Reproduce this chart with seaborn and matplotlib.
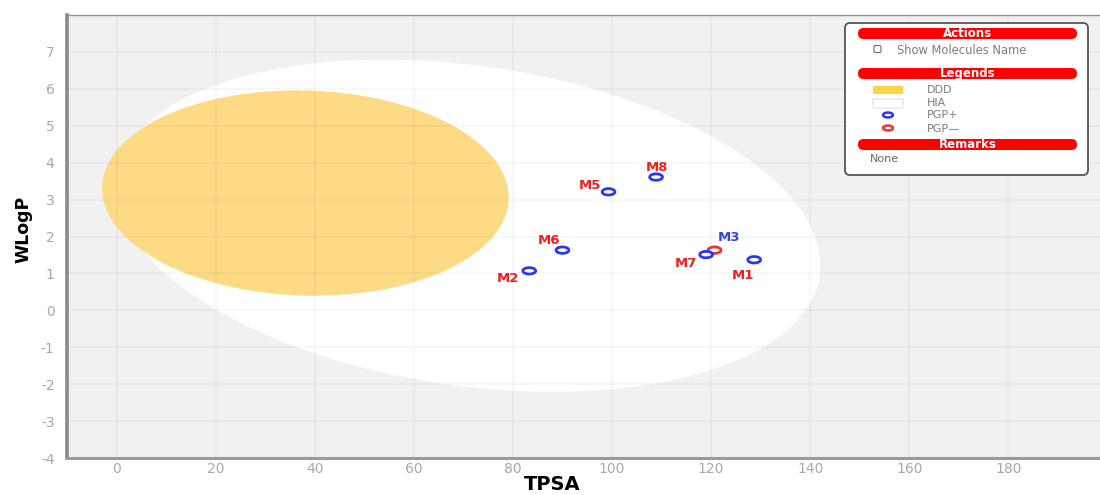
import numpy as np
import pandas as pd
import seaborn as sns
import matplotlib.pyplot as plt
from matplotlib.patches import Ellipse, FancyBboxPatch
from matplotlib.path import Path

# --- molecules: TPSA vs WLogP and P-gp substrate class ---
molecules = ["M1", "M2", "M3", "M5", "M6", "M7", "M8"]
tpsa = [128.7, 83.3, 120.7, 99.3, 90.0, 119.0, 108.9]
wlogp = [1.37, 1.07, 1.63, 3.21, 1.63, 1.51, 3.61]
pgp = ["PGP+", "PGP+", "PGP-", "PGP+", "PGP+", "PGP+", "PGP+"]

# --- BOILED-Egg regions (data units) ---
hia_center = (71.05, 2.292)
hia_size = (142.08, 8.74)
hia_angle = -0.87
bbb_center = (38.12, 3.177)
bbb_size = (82.06, 5.557)
bbb_angle = -0.17

x_ticks = list(range(0, 200, 20))
y_ticks = list(range(-4, 8))

# --- styling ---
BLUE = "#2a36f6"
RED = "#f2302c"
LABEL_RED = "#f01e1e"
LABEL_BLUE = "#3444dc"
YOLK = "#fddb84"
TICK_GREY = "#a8a8a8"

point_colors = {"PGP+": BLUE, "PGP-": RED}
label_colors = {"PGP+": LABEL_RED, "PGP-": LABEL_BLUE}
# label placement around each point, in pixels
label_offsets = {"M1": (-11, -16), "M2": (-21, -8), "M3": (14, 13), "M5": (-19, 6),
                 "M6": (-13, 10), "M7": (-20, -9), "M8": (1, 10)}

# flattened ring marker
t = np.linspace(0, 2 * np.pi, 64)
ring = Path(np.column_stack([np.cos(t), 0.5 * np.sin(t)]), closed=True)

df = pd.DataFrame({"Molecule": molecules, "TPSA": tpsa, "WLogP": wlogp, "PGP": pgp})

sns.set_style("white")
plt.rcParams["font.family"] = ["DejaVu Sans"]
plt.rcParams["axes.unicode_minus"] = False

fig = plt.figure(figsize=(11, 4.95), dpi=100)
ax = fig.add_axes([67 / 1100, 37 / 495, 1033 / 1100, 443 / 495])
ax.set_facecolor("#f1f1f1")

ax.add_patch(Ellipse(hia_center, hia_size[0], hia_size[1], angle=hia_angle,
                     facecolor="white", edgecolor="none", zorder=0.6))
ax.add_patch(Ellipse(bbb_center, bbb_size[0], bbb_size[1], angle=bbb_angle,
                     facecolor=YOLK, edgecolor="none", zorder=0.7))

sns.scatterplot(data=df, x="TPSA", y="WLogP", hue="PGP", palette=point_colors,
                marker=ring, s=85, legend=False, ax=ax, zorder=3)
coll = ax.collections[-1]
coll.set_edgecolors(coll.get_facecolors())
coll.set_facecolors("white")
coll.set_linewidths(2.0)

for m, x, y, p in zip(molecules, tpsa, wlogp, pgp):
    ax.annotate(m, (x, y), xytext=label_offsets[m], textcoords="offset pixels",
                ha="center", va="center", fontsize=9.5, fontweight="heavy",
                color=label_colors[p], zorder=4)

ax.set_xlim(-10, 198.5)
ax.set_ylim(-4, 8)
ax.set_xticks(x_ticks)
ax.set_yticks(y_ticks)
ax.set_axisbelow("line")
ax.grid(True, color="black", alpha=0.035, linewidth=1.3)
ax.tick_params(axis="both", length=0, labelsize=10, labelcolor=TICK_GREY)
ax.tick_params(axis="y", pad=9)
ax.tick_params(axis="x", pad=3)

for side, col, lw in [("left", "#8a8a8a", 2.6), ("bottom", "#9a9a9a", 2.2),
                      ("top", "#8f8f8f", 1.0)]:
    ax.spines[side].set_visible(True)
    ax.spines[side].set_color(col)
    ax.spines[side].set_linewidth(lw)
ax.spines["right"].set_visible(False)

ax.set_xlabel("TPSA", fontsize=14, fontweight="bold", color="black")
ax.set_ylabel("WLogP", fontsize=12.5, fontweight="bold", color="black")
ax.xaxis.set_label_coords(0.4695, -0.038)
ax.yaxis.set_label_coords(-0.033, 0.515)

# --- side panel (pixel coordinates) ---
ov = fig.add_axes([0, 0, 1, 1])
ov.set_xlim(0, 1100)
ov.set_ylim(495, 0)
ov.axis("off")

ov.add_patch(FancyBboxPatch((845, 23), 243, 152, boxstyle="round,pad=0,rounding_size=5",
                            facecolor="white", edgecolor="#555555", linewidth=1.3))
for title, y0 in [("Actions", 28), ("Legends", 68), ("Remarks", 139)]:
    ov.add_patch(FancyBboxPatch((858, y0), 219, 11, boxstyle="round,pad=0,rounding_size=5.5",
                                facecolor="#ff0000", edgecolor="none"))
    ov.text(967.5, y0 + 5.8, title, ha="center", va="center", color="white",
            fontsize=8.5, fontweight="bold")

GREY_TXT = "#7c7c7c"
ov.add_patch(FancyBboxPatch((874, 45.5), 7, 7, boxstyle="round,pad=0,rounding_size=1.5",
                            facecolor="white", edgecolor="#6a6a6a", linewidth=0.8))
ov.text(897, 50, "Show Molecules Name", ha="left", va="center", color=GREY_TXT, fontsize=8.3)

ov.add_patch(FancyBboxPatch((873, 86), 30, 8, boxstyle="round,pad=0,rounding_size=1",
                            facecolor="#fcd447", edgecolor="none"))
ov.add_patch(FancyBboxPatch((873, 99), 30, 9, boxstyle="round,pad=0,rounding_size=1",
                            facecolor="white", edgecolor="#e2e2e2", linewidth=0.8))
ov.scatter([888, 888], [115, 128], marker=ring, s=50, facecolors="white",
           edgecolors=[BLUE, RED], linewidths=1.8)
for txt, y in [("DDD", 90), ("HIA", 103.5), ("PGP+", 115.5), ("PGP\u2014", 128.5)]:
    ov.text(927, y, txt, ha="left", va="center", color=GREY_TXT, fontsize=8)
ov.text(870, 159, "None", ha="left", va="center", color="#666666", fontsize=8)

fig.savefig("out.png", dpi=100)
